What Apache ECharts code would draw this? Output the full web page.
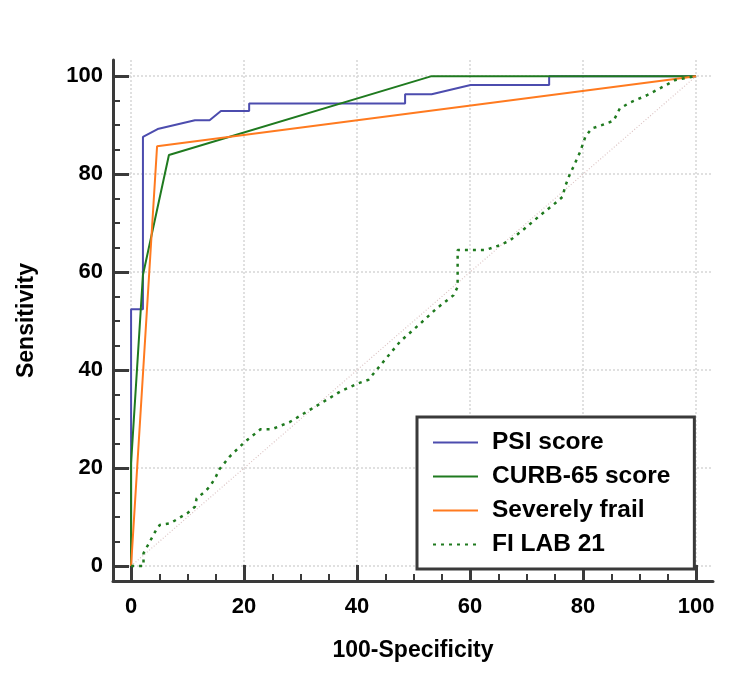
<!DOCTYPE html>
<html>
<head>
<meta charset="utf-8">
<script src="https://cdn.jsdelivr.net/npm/echarts@6/dist/echarts.min.js"></script>
<style>
html,body{margin:0;padding:0;background:#fff;}
#chart{width:750px;height:680px;}
</style>
</head>
<body>
<div id="chart"></div>
<script>
// ROC curves, points as [100-Specificity, Sensitivity]
var psiPts = [[0,0],[0,52.4],[2.1,52.4],[2.1,87.6],[4.7,89.2],[11.3,91.0],[13.9,91.0],[15.9,92.9],[20.9,92.9],[20.9,94.4],[48.5,94.4],[48.5,96.3],[53.2,96.3],[60.1,98.2],[74.0,98.2],[74.0,100],[100,100]];
var curbPts = [[0,0],[0,21],[2.1,59.4],[6.7,83.9],[53.2,100],[100,100]];
var frailPts = [[0,0],[4.6,85.7],[100,100]];
var fiPts = [[0,0],[2.2,0],[2.2,2.6],[4.5,7.5],[5.1,8.4],[6.9,8.7],[10.1,10.9],[11.3,12.1],[11.6,13.8],[13.1,15.2],[14.0,16.3],[15.0,18.2],[15.6,19.7],[17.5,22.4],[20.2,25.4],[21.6,26.7],[22.9,27.9],[24.9,27.9],[28.1,29.4],[31.1,31.5],[34.0,33.5],[37.0,35.6],[40.2,37.3],[42.0,38.0],[47.6,45.8],[51.2,49.5],[54.1,52.6],[57.1,55.3],[57.8,57.0],[57.8,64.5],[62.7,64.5],[65.3,65.5],[67.1,66.5],[70.0,69.2],[72.4,71.6],[74.7,73.7],[76.4,75.4],[76.8,77.4],[77.7,80.1],[78.3,81.5],[79.5,84.6],[80.4,87.6],[81.5,89.3],[83.3,90.0],[85.4,90.9],[86.5,93.4],[88.3,94.6],[91.3,96.1],[93.6,97.5],[96.3,99.2],[100,100]];
var diagPts = [[0,0],[100,100]];
var seriesNames = ['PSI score','CURB-65 score','Severely frail','FI LAB 21'];
var majorTicks = [0,20,40,60,80,100];
var minorTicks = [5,10,15,25,30,35,45,50,55,65,70,75,85,90,95];

var chart = echarts.init(document.getElementById('chart'));
var font = 'Liberation Sans, Arial, sans-serif';
var axisColor = '#3a3a3a';

function mainAxis(min, max, extra){
	var ax = {
		type:'value', min:min, max:max,
		axisLine:{show:true, onZero:false, lineStyle:{color:axisColor, width:3}},
		axisTick:{show:true, inside:true, length:16, customValues:majorTicks, lineStyle:{color:axisColor, width:3}},
		splitLine:{show:true, lineStyle:{color:'#d6d6d6', width:1.5, type:[2,2]}},
		nameLocation:'middle',
		nameTextStyle:{color:'#000', fontSize:23, fontWeight:'bold', fontFamily:font}
	};
	for (var k in extra) ax[k] = extra[k];
	return ax;
}
function minorAxis(min, max, pos){
	return {
		type:'value', min:min, max:max, position:pos,
		axisLine:{show:false, onZero:false},
		axisTick:{show:true, inside:true, length:7, customValues:minorTicks, lineStyle:{color:axisColor, width:2}},
		axisLabel:{show:false},
		splitLine:{show:false}
	};
}

var option = {
	backgroundColor:'#fff',
	animation:false,
	grid:{left:113, right:37, top:60, bottom:99},
	xAxis:[
		mainAxis(-3.2, 103, {position:'bottom', name:'100-Specificity', nameGap:58,
			axisLabel:{customValues:majorTicks, margin:15, color:'#000', fontSize:22, fontWeight:'bold', fontFamily:font}}),
		minorAxis(-3.2, 103, 'bottom')
	],
	yAxis:[
		mainAxis(-3.06, 103.3, {position:'left', name:'Sensitivity', nameGap:75, nameRotate:90,
			axisLabel:{customValues:majorTicks, margin:10, color:'#000', fontSize:22, fontWeight:'bold', fontFamily:font}}),
		minorAxis(-3.06, 103.3, 'left')
	],
	legend:{
		data:seriesNames,
		orient:'vertical',
		left:417, top:417,
		padding:[13,24,12,15],
		itemWidth:45, itemHeight:14, itemGap:9,
		itemStyle:{opacity:0},
		backgroundColor:'#fff',
		borderColor:axisColor, borderWidth:3,
		textStyle:{color:'#000', fontSize:24.5, fontWeight:'bold', fontFamily:font, padding:[0,0,0,9]}
	},
	series:[
		{name:'diag', type:'line', data:diagPts, symbol:'none', silent:true,
			lineStyle:{color:'#dcc4c4', width:1.2, type:[1,2]}},
		{name:'PSI score', type:'line', data:psiPts, symbol:'none',
			lineStyle:{color:'#4c4cae', width:2}, itemStyle:{color:'#4c4cae'}},
		{name:'CURB-65 score', type:'line', data:curbPts, symbol:'none',
			lineStyle:{color:'#1f7a1f', width:2}, itemStyle:{color:'#1f7a1f'}},
		{name:'Severely frail', type:'line', data:frailPts, symbol:'none',
			lineStyle:{color:'#ff7a1f', width:2}, itemStyle:{color:'#ff7a1f'}},
		{name:'FI LAB 21', type:'line', data:fiPts, symbol:'none',
			lineStyle:{color:'#1f7a1f', width:2.5, type:[3,5]}, itemStyle:{color:'#1f7a1f'}}
	]
};
chart.setOption(option);
</script>
</body>
</html>
